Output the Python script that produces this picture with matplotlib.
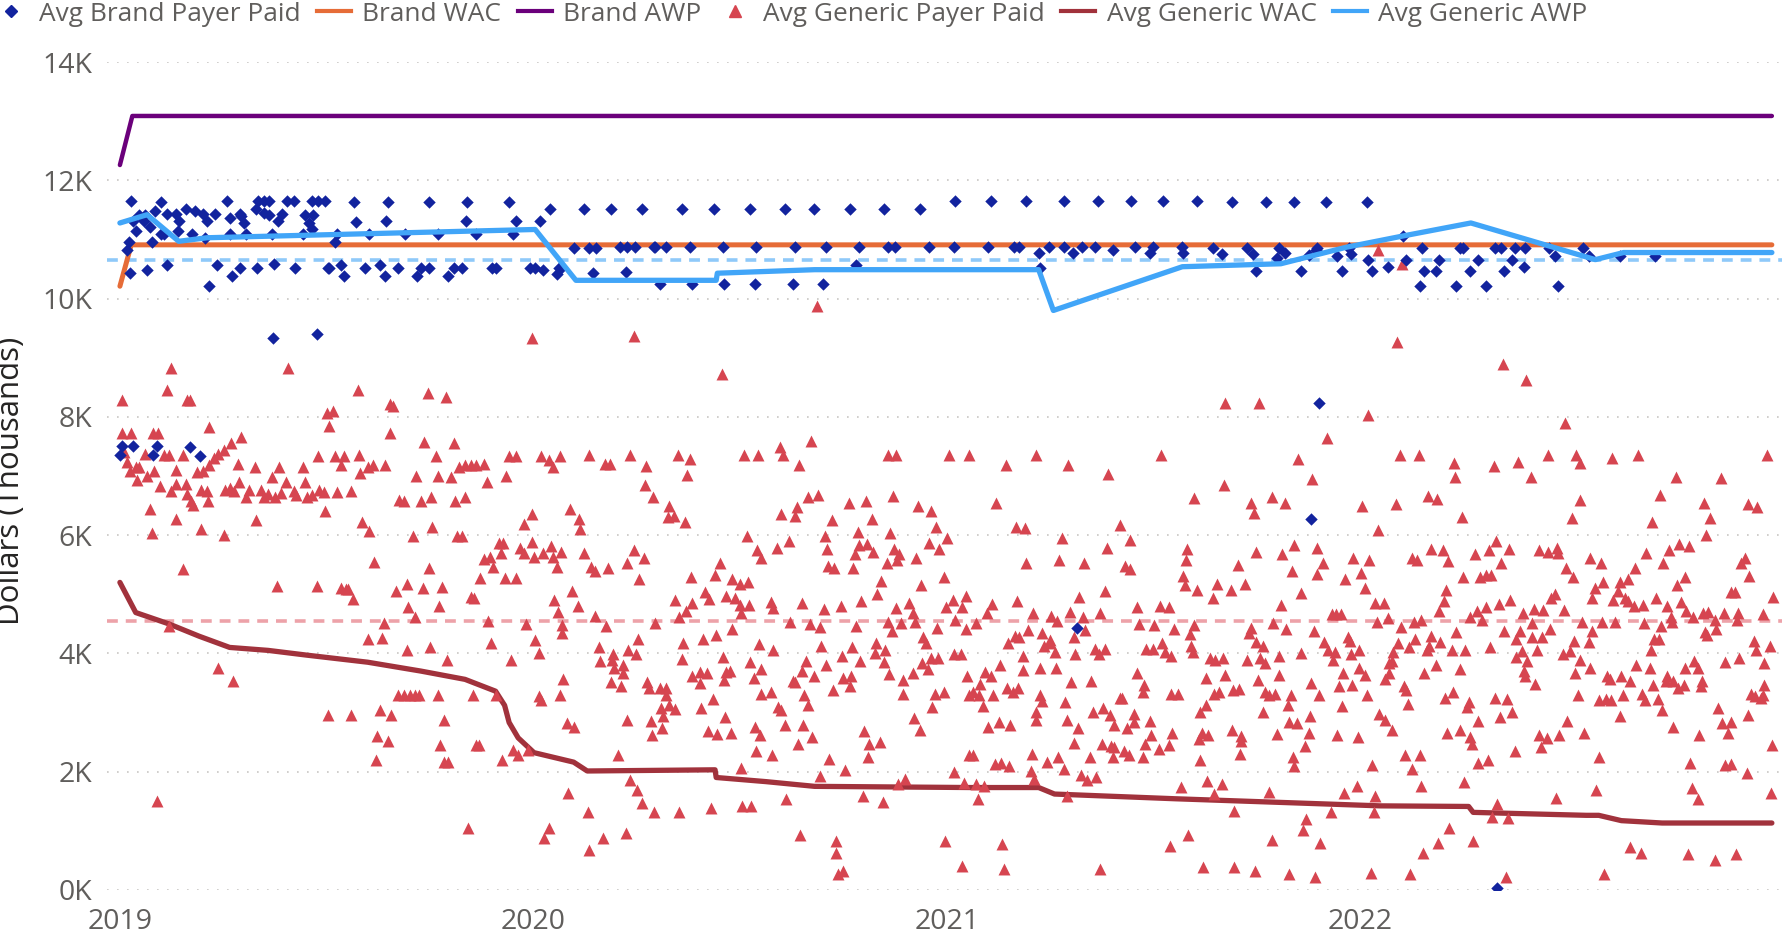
"""
Brand vs generic pricing over time (payer paid, WAC, AWP).
"""
import numpy as np
import matplotlib.pyplot as plt
from matplotlib.lines import Line2D

plt.rcParams["font.family"] = ["Open Sans", "DejaVu Sans"]

START = np.datetime64("2019-01-01")

# (days since 2019-01-01, $K)
brand_awp = [(0, 12.26), (11, 13.09), (1460, 13.09)]
brand_wac = [(0, 10.21), (10, 10.91), (1460, 10.91)]
generic_awp = [(0, 11.28), (24, 11.42), (52, 10.97), (77, 11.03), (367, 11.17), (403, 10.31),
               (527, 10.31), (528, 10.43), (614, 10.49), (812, 10.49), (825, 9.8), (939, 10.54),
               (1026, 10.59), (1084, 10.87), (1134, 11.06), (1194, 11.28), (1304, 10.66),
               (1329, 10.78), (1460, 10.78)]
generic_wac = [(0, 5.2), (14, 4.69), (43, 4.5), (70, 4.29), (97, 4.1), (131, 4.05), (165, 3.97),
               (219, 3.85), (266, 3.7), (305, 3.56), (332, 3.36), (340, 3.12), (344, 2.83),
               (352, 2.57), (366, 2.32), (401, 2.16), (413, 2.01), (526, 2.03), (527, 1.9),
               (571, 1.83), (614, 1.75), (752, 1.73), (812, 1.73), (826, 1.62), (933, 1.54),
               (1114, 1.42), (1192, 1.41), (1196, 1.31), (1296, 1.26), (1307, 1.26), (1327, 1.17),
               (1363, 1.13), (1460, 1.13)]

# average lines (dashed)
generic_awp_avg = 10.66
generic_paid_avg = 4.54

brand_paid = [
    (10, 11.65), (12, 11.31), (14, 11.14), (8, 10.95), (6, 10.82), (9, 10.44), (17, 11.42), (22, 11.42),
    (21, 11.31), (27, 11.21), (28, 10.96), (24, 10.48), (31, 11.48), (36, 11.64), (36, 11.09), (39, 11.1),
    (42, 11.44), (42, 10.57), (50, 11.44), (52, 11.31), (51, 11.14), (58, 11.52), (66, 11.49), (64, 11.09),
    (73, 11.44), (75, 11.03), (77, 11.31), (79, 10.21), (84, 11.44), (86, 10.57), (95, 11.65), (97, 11.37),
    (97, 11.09), (99, 10.38), (106, 11.44), (107, 11.4), (110, 11.28), (111, 11.09), (106, 10.52),
    (121, 10.52), (120, 11.51), (122, 11.65), (127, 11.65), (132, 11.65), (127, 11.45), (132, 11.42),
    (134, 11.09), (136, 10.58), (135, 9.33), (143, 11.44), (140, 11.31), (148, 11.65), (154, 11.65),
    (155, 10.52), (162, 11.09), (164, 11.42), (170, 11.65), (175, 11.65), (181, 11.65), (171, 11.42),
    (167, 11.28), (170, 11.17), (174, 9.41), (184, 10.52), (185, 10.52), (190, 10.95), (192, 11.09),
    (195, 10.57), (198, 10.38), (207, 11.63), (209, 11.3), (217, 10.52), (220, 11.09), (230, 10.57),
    (234, 10.38), (235, 11.31), (237, 11.64), (246, 10.52), (252, 11.09), (263, 10.38), (266, 10.52),
    (273, 10.52), (273, 11.64), (281, 11.09), (290, 10.38), (295, 10.52), (302, 10.52), (306, 11.31),
    (307, 11.64), (315, 11.09), (329, 10.52), (332, 10.52), (344, 11.64), (347, 11.09), (350, 11.31),
    (362, 10.52), (367, 10.52), (374, 10.48), (371, 11.31), (380, 11.51), (388, 10.52), (390, 10.52),
    (386, 10.41), (401, 10.86), (410, 11.51), (415, 10.86), (418, 10.44), (421, 10.86),
    (0, 7.36), (2, 7.51), (12, 7.51), (29, 7.36), (33, 7.51), (62, 7.49), (71, 7.34),
    (434, 11.51), (461, 11.51), (497, 11.51), (525, 11.51), (557, 11.51), (588, 11.51), (613, 11.51),
    (645, 11.51), (675, 11.51), (707, 11.51), (738, 11.65), (770, 11.65), (801, 11.65), (834, 11.65),
    (864, 11.65), (894, 11.65), (922, 11.65), (952, 11.65),
    (442, 10.88), (448, 10.88), (455, 10.88), (472, 10.88), (473, 10.88), (483, 10.88), (504, 10.88),
    (533, 10.88), (562, 10.88), (597, 10.88), (624, 10.88), (653, 10.88), (679, 10.88), (685, 10.88),
    (715, 10.88), (737, 10.88), (767, 10.88), (790, 10.88), (795, 10.88), (821, 10.88), (834, 10.88),
    (850, 10.88), (862, 10.88), (897, 10.88), (913, 10.88), (939, 10.88),
    (447, 10.45), (477, 10.25), (506, 10.25), (534, 10.25), (561, 10.25), (595, 10.25), (621, 10.25),
    (651, 10.57), (812, 10.77), (813, 10.52), (842, 10.78), (878, 10.82), (910, 10.77), (940, 10.77),
    (983, 11.63), (1013, 11.63), (1038, 11.63), (1066, 11.63), (1102, 11.63), (966, 10.86), (974, 10.75),
    (996, 10.86), (1001, 10.75), (1004, 10.47), (1024, 10.86), (1023, 10.69), (1030, 10.78), (1044, 10.47),
    (1051, 10.74), (1057, 10.82), (1058, 10.86), (1076, 10.72), (1080, 10.47), (1086, 10.86), (1088, 10.75),
    (1103, 10.65), (1107, 10.47), (1121, 10.54), (1134, 11.06), (1137, 10.66), (1149, 10.21), (1151, 10.86),
    (1153, 10.47), (1163, 10.47), (1166, 10.65), (1181, 10.21), (1184, 10.86), (1187, 10.86), (1193, 10.47),
    (1200, 10.66), (1207, 10.21), (1215, 10.86), (1221, 10.86), (1223, 10.47), (1230, 10.66), (1233, 10.86),
    (1242, 10.86), (1241, 10.54), (1263, 10.86), (1268, 10.72), (1271, 10.21), (1293, 10.86), (1298, 10.72),
    (1326, 10.72), (1357, 10.72),
    (846, 4.43), (1060, 8.24), (1053, 6.27), (1217, 0.03),
]

generic_paid = [
    # 2019
    (2, 8.29), (2, 7.73), (10, 7.73), (45, 8.83), (42, 8.46), (59, 8.29), (62, 8.29), (29, 7.73), (34, 7.73),
    (79, 7.83), (149, 8.83), (210, 8.46), (183, 8.07), (188, 8.1), (185, 7.84), (239, 8.21), (241, 8.18),
    (239, 7.73), (272, 8.41), (288, 8.33), (364, 9.34), (269, 7.57), (295, 7.55), (98, 7.56), (107, 7.66),
    (4, 7.41), (6, 7.24), (9, 7.09), (14, 7.16), (17, 7.15), (15, 6.93), (22, 7.38), (24, 7.0), (30, 7.09),
    (35, 6.83), (27, 6.45), (28, 6.04), (39, 7.36), (43, 7.36), (45, 6.75), (50, 7.1), (50, 6.86), (56, 7.36),
    (58, 6.86), (59, 6.7), (50, 6.28), (56, 5.42), (63, 6.57), (65, 6.51), (68, 7.06), (72, 6.77), (72, 6.1),
    (73, 7.09), (77, 6.74), (78, 6.57), (79, 7.18), (83, 7.3), (87, 7.38), (92, 7.44), (92, 6.01), (93, 6.77),
    (97, 6.8), (101, 6.75), (104, 7.21), (105, 6.89), (111, 6.65), (114, 6.77), (119, 7.15), (120, 6.25),
    (125, 6.77), (127, 6.65), (131, 6.7), (134, 6.99), (137, 6.65), (141, 7.15), (142, 6.71), (147, 6.89),
    (154, 6.75), (156, 6.68), (162, 7.16), (164, 6.89), (165, 6.65), (170, 6.68), (175, 7.33), (176, 6.77),
    (180, 6.73), (181, 6.4), (190, 7.34), (192, 6.73), (195, 7.18), (198, 7.34), (204, 6.75), (211, 7.36),
    (212, 7.05), (214, 6.22), (220, 6.07), (219, 7.15), (224, 7.18), (225, 5.55), (234, 7.18), (247, 6.6),
    (251, 6.57), (259, 5.98), (262, 7.0), (266, 6.58), (275, 6.65), (276, 6.13), (279, 7.33), (281, 7.0),
    (293, 6.98), (296, 6.57), (298, 5.98), (302, 5.98), (300, 7.16), (305, 7.18), (305, 6.65), (310, 7.18),
    (315, 7.18), (322, 7.21), (324, 6.89), (341, 7.0), (344, 7.34), (350, 7.34), (357, 6.19), (364, 6.36),
    (372, 7.34), (379, 7.27), (383, 7.16), (389, 7.34), (398, 6.45), (406, 6.28), (407, 6.1), (410, 5.69),
    (415, 7.36), (416, 5.46), (420, 5.4),
    (318, 5.28), (327, 5.63), (322, 5.6), (330, 5.46), (335, 5.87), (339, 5.87), (337, 5.69), (340, 5.28),
    (350, 5.28), (354, 5.78), (357, 5.69), (364, 5.88), (366, 5.63), (374, 5.69), (381, 5.81), (383, 5.63),
    (386, 5.46), (390, 5.72), (384, 4.9), (387, 4.7), (400, 5.06), (405, 4.8), (310, 4.96), (313, 4.93),
    (325, 4.55), (254, 5.17), (255, 4.79), (261, 4.61), (268, 5.11), (273, 5.45), (282, 4.8), (285, 5.12),
    (244, 5.05), (233, 4.52), (232, 4.26), (219, 4.24), (254, 4.06), (274, 4.1), (289, 3.88), (328, 4.17),
    (359, 4.5), (367, 4.23), (370, 4.01), (391, 4.48), (391, 4.35), (392, 3.57), (389, 3.3), (346, 3.89),
    (370, 3.27), (372, 3.21), (395, 2.83), (401, 2.76), (338, 2.19), (347, 2.36), (352, 2.28), (361, 2.36),
    (396, 1.63), (375, 0.88), (379, 1.04), (414, 1.31), (415, 0.67), (308, 1.04), (312, 3.3), (332, 3.3),
    (315, 2.45), (317, 2.45), (246, 3.3), (251, 3.3), (256, 3.3), (261, 3.3), (264, 3.3), (281, 3.3),
    (286, 2.88), (283, 2.45), (286, 2.16), (290, 2.16), (230, 3.04), (240, 2.96), (227, 2.6), (237, 2.51),
    (226, 2.2), (184, 2.96), (204, 2.96), (87, 3.75), (100, 3.53), (43, 4.47), (139, 5.14), (174, 5.14),
    (195, 5.11), (200, 5.08), (202, 5.08), (206, 4.92), (33, 1.5),
    # 2020 first half
    (454, 9.36), (532, 8.72), (429, 7.2), (433, 7.2), (451, 7.36), (465, 7.17), (464, 6.85), (471, 6.65),
    (493, 7.36), (504, 7.29), (501, 7.01), (485, 6.5), (484, 6.31), (490, 6.33), (499, 6.22), (552, 7.36),
    (564, 7.36), (554, 5.99), (563, 5.75), (567, 5.61), (431, 5.44), (448, 5.53), (454, 5.75), (463, 5.62),
    (459, 5.25), (420, 4.64), (430, 4.47), (473, 4.51), (423, 4.1), (424, 3.87), (436, 3.99), (437, 3.76),
    (435, 3.89), (445, 3.8), (445, 3.67), (434, 3.51), (443, 3.45), (449, 4.05), (456, 3.99), (458, 4.24),
    (466, 3.51), (468, 3.41), (477, 3.41), (483, 3.41), (483, 3.29), (478, 3.08), (485, 3.13), (491, 3.06),
    (480, 2.94), (448, 2.87), (469, 2.85), (470, 2.62), (479, 2.73), (491, 4.91), (494, 4.62), (500, 4.72),
    (506, 4.85), (498, 4.18), (497, 3.91), (505, 5.29), (517, 5.04), (521, 4.92), (526, 5.32), (530, 5.53),
    (515, 4.24), (527, 4.31), (506, 3.62), (513, 3.68), (519, 3.67), (513, 3.49), (533, 3.94), (536, 3.68),
    (539, 3.7), (534, 3.55), (524, 3.22), (514, 3.08), (535, 2.92), (520, 2.68), (528, 2.64), (540, 2.65),
    (541, 5.25), (548, 5.17), (555, 5.21), (536, 4.97), (544, 4.94), (548, 4.82), (556, 4.82), (549, 4.69),
    (541, 4.42), (565, 4.15), (557, 3.86), (560, 3.59), (567, 3.73), (567, 3.32), (561, 2.76), (566, 2.62),
    (562, 2.34), (549, 2.06), (440, 2.28), (451, 1.85), (457, 1.69), (461, 1.47), (472, 1.31), (494, 1.31),
    (522, 1.38), (550, 1.41), (558, 1.41), (427, 0.88), (447, 0.96),
    # 2020 second half
    (616, 9.88), (583, 7.49), (586, 7.36), (611, 7.59), (600, 7.18), (679, 7.36), (686, 7.36), (733, 7.36),
    (750, 7.36), (584, 6.36), (597, 6.33), (598, 6.47), (608, 6.65), (617, 6.68), (629, 6.25), (644, 6.55),
    (659, 6.57), (665, 6.27), (683, 6.66), (705, 6.5), (717, 6.41), (721, 6.14), (731, 5.95), (715, 5.87),
    (724, 5.76), (623, 5.99), (652, 6.06), (681, 6.03), (581, 5.78), (591, 5.9), (625, 5.76), (650, 5.68),
    (653, 5.83), (660, 5.85), (666, 5.71), (648, 5.44), (626, 5.48), (631, 5.45), (678, 5.52), (684, 5.76),
    (687, 5.58), (689, 5.68), (704, 5.61), (673, 5.23), (669, 5.01), (708, 5.15), (728, 5.29), (575, 4.87),
    (577, 4.76), (603, 4.85), (592, 4.53), (610, 4.5), (619, 4.45), (622, 4.75), (637, 4.8), (655, 4.89),
    (651, 4.46), (686, 4.76), (697, 4.85), (701, 4.69), (703, 4.53), (679, 4.53), (682, 4.37), (690, 4.51),
    (710, 4.28), (712, 4.18), (722, 4.43), (730, 4.78), (736, 4.91), (744, 4.78), (748, 4.97), (738, 4.56),
    (748, 4.42), (577, 4.05), (606, 3.87), (603, 3.7), (595, 3.53), (597, 3.51), (613, 3.62), (620, 4.13),
    (624, 3.8), (638, 3.96), (647, 4.1), (654, 3.87), (639, 3.59), (646, 3.61), (645, 3.45), (630, 3.38),
    (668, 4.17), (667, 4.0), (676, 4.05), (675, 3.85), (680, 3.65), (692, 3.55), (692, 3.32), (701, 3.67),
    (709, 3.83), (714, 3.73), (717, 3.92), (723, 3.92), (737, 3.99), (743, 3.99), (749, 3.61), (720, 3.32),
    (728, 3.35), (718, 3.1), (750, 3.29), (575, 3.35), (582, 3.1), (584, 3.04), (588, 2.79), (604, 2.78),
    (605, 3.29), (608, 3.13), (599, 2.47), (612, 2.59), (576, 2.28), (627, 2.22), (641, 2.03), (619, 1.92),
    (658, 2.68), (662, 2.47), (672, 2.5), (661, 2.24), (702, 2.9), (707, 2.71), (750, 2.28), (737, 2.0),
    (688, 1.79), (694, 1.87), (746, 1.81), (589, 1.54), (657, 1.58), (674, 1.48), (601, 0.93), (633, 0.83),
    (633, 0.62), (635, 0.26), (639, 0.32), (729, 0.83), (744, 0.41),
    # 2021 first half
    (810, 7.36), (783, 7.18), (838, 7.18), (873, 7.03), (920, 7.36), (774, 6.55), (792, 6.14), (800, 6.12),
    (833, 5.95), (884, 6.17), (893, 5.91), (872, 5.78), (801, 5.52), (830, 5.58), (852, 5.52), (888, 5.48),
    (893, 5.42), (871, 5.06), (848, 4.96), (771, 4.83), (766, 4.69), (793, 4.88), (757, 4.51), (807, 4.68),
    (823, 4.64), (828, 4.55), (840, 4.7), (851, 4.61), (866, 4.68), (899, 4.78), (901, 4.5), (914, 4.48),
    (919, 4.8), (927, 4.78), (932, 4.42), (803, 4.39), (795, 4.27), (791, 4.3), (785, 4.18), (815, 4.34),
    (817, 4.13), (822, 4.23), (822, 4.17), (826, 4.02), (843, 4.27), (853, 4.4), (844, 3.99), (862, 4.08),
    (865, 3.99), (871, 4.08), (907, 4.08), (913, 4.08), (921, 4.18), (924, 4.02), (929, 3.96), (798, 3.96),
    (813, 3.76), (827, 3.75), (778, 3.8), (765, 3.68), (770, 3.61), (798, 3.72), (760, 3.48), (754, 3.35),
    (759, 3.3), (772, 3.3), (763, 3.11), (784, 3.41), (789, 3.35), (794, 3.41), (813, 3.3), (815, 3.19),
    (841, 3.51), (858, 3.53), (835, 3.17), (810, 3.0), (810, 2.87), (837, 2.87), (847, 2.73), (777, 2.84),
    (787, 2.79), (767, 2.76), (869, 3.08), (875, 2.96), (860, 3.0), (879, 2.78), (884, 3.24), (886, 3.25),
    (899, 3.66), (904, 3.35), (905, 3.46), (896, 2.98), (896, 2.84), (890, 2.73), (910, 2.85), (911, 2.62),
    (929, 3.32), (930, 2.65), (927, 2.45), (918, 2.38), (906, 2.46), (904, 2.25), (868, 2.46), (876, 2.43),
    (879, 2.41), (878, 2.24), (887, 2.34), (892, 2.28), (843, 2.49), (857, 2.24), (754, 2.28), (773, 2.13),
    (779, 2.14), (786, 2.1), (806, 2.29), (819, 2.17), (829, 2.24), (834, 2.04), (805, 2.01), (808, 1.87),
    (849, 1.94), (855, 1.85), (863, 1.9), (757, 1.79), (764, 1.76), (758, 1.54), (837, 1.58), (780, 0.77),
    (781, 0.36), (866, 0.36), (928, 0.74),
    # 2021 second half
    (977, 8.24), (1007, 8.24), (1103, 8.03), (1067, 7.65), (1041, 7.28), (1054, 6.95), (976, 6.85),
    (949, 6.63), (1000, 6.55), (1002, 6.38), (1018, 6.65), (1030, 6.54), (1098, 6.5), (1112, 6.08),
    (943, 5.77), (942, 5.58), (940, 5.31), (941, 5.15), (952, 5.07), (966, 4.94), (970, 5.18), (982, 5.07),
    (988, 5.5), (994, 5.18), (1004, 5.72), (1027, 5.68), (1038, 5.83), (1036, 5.4), (1058, 5.79),
    (1063, 5.53), (1058, 5.34), (1044, 5.02), (1026, 4.82), (1090, 5.61), (1104, 5.58), (1097, 5.36),
    (1100, 5.1), (1083, 5.25), (1109, 4.85), (1071, 4.66), (1075, 4.66), (1079, 4.66), (1111, 4.53),
    (949, 4.48), (946, 4.32), (947, 4.13), (948, 4.02), (1000, 4.43), (998, 4.34), (1004, 4.19), (1010, 4.13),
    (1019, 4.51), (1031, 4.42), (1055, 4.38), (1064, 4.19), (1068, 4.06), (1074, 4.02), (1085, 4.27),
    (1087, 4.21), (1095, 4.05), (1088, 3.99), (1072, 3.89), (963, 3.92), (968, 3.89), (975, 3.92),
    (996, 3.89), (1008, 3.92), (1012, 3.83), (1024, 3.96), (1044, 4.0), (1081, 3.67), (1095, 3.76),
    (1100, 3.64), (960, 3.59), (977, 3.64), (1006, 3.55), (1024, 3.64), (1053, 3.49), (1077, 3.45),
    (1089, 3.46), (935, 3.32), (967, 3.32), (971, 3.34), (984, 3.38), (989, 3.4), (1012, 3.34), (1016, 3.29),
    (1021, 3.32), (1035, 3.3), (1032, 3.13), (1060, 3.29), (1102, 3.29), (960, 3.13), (955, 3.0),
    (1010, 3.01), (1080, 3.11), (1033, 2.84), (1040, 2.83), (1052, 2.94), (1113, 2.97), (956, 2.65),
    (954, 2.55), (962, 2.62), (983, 2.7), (991, 2.6), (991, 2.51), (990, 2.3), (1023, 2.64), (1051, 2.66),
    (1047, 2.44), (1076, 2.62), (1094, 2.59), (955, 2.19), (1037, 2.25), (1038, 2.09), (1107, 2.11),
    (938, 1.74), (961, 1.84), (974, 1.79), (967, 1.62), (1016, 1.66), (1082, 1.63), (1093, 1.76),
    (1109, 1.58), (985, 1.34), (1048, 1.2), (1046, 1.01), (1070, 1.32), (1108, 1.32), (944, 0.93),
    (1018, 0.85), (1061, 0.8), (957, 0.39), (985, 0.39), (1003, 0.31), (1033, 0.27), (1056, 0.22),
    (1106, 0.28), (1112, 10.82), (1133, 10.58),
    # 2022 first half
    (1129, 9.26), (1222, 8.9), (1243, 8.62), (1277, 7.9), (1131, 7.36), (1148, 7.36), (1179, 7.22),
    (1180, 6.99), (1214, 7.17), (1236, 7.24), (1247, 6.99), (1262, 7.36), (1287, 7.36), (1290, 7.22),
    (1128, 6.52), (1156, 6.66), (1164, 6.61), (1186, 6.31), (1283, 6.29), (1290, 6.6), (1159, 5.77),
    (1169, 5.75), (1142, 5.61), (1146, 5.58), (1174, 5.56), (1198, 5.68), (1210, 5.75), (1216, 5.9),
    (1228, 5.76), (1221, 5.53), (1254, 5.75), (1262, 5.72), (1270, 5.78), (1271, 5.69), (1278, 5.44),
    (1284, 5.29), (1187, 5.29), (1202, 5.29), (1207, 5.32), (1212, 5.32), (1172, 5.07), (1170, 4.88),
    (1166, 4.72), (1265, 4.94), (1268, 5.01), (1229, 4.9), (1219, 4.83), (1207, 4.78), (1199, 4.72),
    (1193, 4.61), (1204, 4.57), (1117, 4.85), (1121, 4.59), (1132, 4.45), (1144, 4.53), (1150, 4.57),
    (1240, 4.68), (1250, 4.75), (1258, 4.73), (1276, 4.74), (1292, 4.53), (1248, 4.51), (1237, 4.37),
    (1234, 4.25), (1223, 4.37), (1181, 4.36), (1159, 4.3), (1167, 4.19), (1145, 4.25), (1139, 4.1),
    (1130, 4.17), (1125, 4.02), (1124, 3.87), (1122, 3.83), (1155, 4.05), (1157, 4.13), (1177, 4.06),
    (1189, 4.05), (1211, 4.1), (1248, 4.27), (1257, 4.27), (1264, 4.42), (1234, 3.94), (1239, 4.04),
    (1244, 3.87), (1252, 4.05), (1275, 3.99), (1282, 4.04), (1285, 4.21), (1290, 3.89), (1118, 3.57),
    (1122, 3.67), (1153, 3.66), (1163, 3.81), (1184, 3.73), (1241, 3.7), (1242, 3.61), (1251, 3.48),
    (1286, 3.66), (1135, 3.45), (1137, 3.38), (1138, 3.15), (1171, 3.24), (1178, 3.35), (1192, 3.17),
    (1191, 3.1), (1215, 3.24), (1226, 3.22), (1230, 3.0), (1220, 2.92), (1200, 2.85), (1289, 3.3),
    (1118, 2.87), (1124, 2.7), (1173, 2.66), (1184, 2.71), (1193, 2.59), (1195, 2.46), (1254, 2.62),
    (1261, 2.57), (1256, 2.41), (1272, 2.62), (1279, 2.85), (1294, 2.65), (1233, 2.34), (1136, 2.28),
    (1149, 2.28), (1142, 2.04), (1200, 2.15), (1209, 2.19), (1150, 1.76), (1188, 1.83), (1269, 1.55),
    (1217, 1.45), (1213, 1.24), (1227, 1.22), (1175, 1.04), (1165, 0.8), (1152, 0.62), (1196, 0.82),
    (1140, 0.26), (1225, 0.22),
    # 2022 second half
    (1319, 7.31), (1342, 7.36), (1456, 7.36), (1375, 6.99), (1415, 6.97), (1361, 6.68), (1400, 6.55),
    (1439, 6.52), (1447, 6.48), (1405, 6.29), (1354, 6.23), (1402, 6.01), (1299, 5.61), (1309, 5.52),
    (1349, 5.69), (1364, 5.52), (1369, 5.74), (1378, 5.85), (1387, 5.82), (1383, 5.29), (1376, 5.15),
    (1339, 5.45), (1333, 5.26), (1326, 5.21), (1324, 5.06), (1311, 5.21), (1304, 5.1), (1301, 4.93),
    (1320, 4.91), (1330, 4.94), (1333, 4.88), (1338, 4.8), (1346, 4.82), (1358, 4.94), (1367, 4.8),
    (1371, 4.62), (1372, 4.53), (1380, 4.87), (1384, 4.71), (1390, 4.61), (1399, 4.69), (1404, 4.7),
    (1410, 4.56), (1411, 4.42), (1418, 4.69), (1424, 5.04), (1427, 5.04), (1430, 4.68), (1429, 4.56),
    (1433, 5.53), (1436, 5.61), (1440, 5.31), (1452, 4.66), (1461, 4.96), (1310, 4.53), (1321, 4.53),
    (1347, 4.51), (1362, 4.46), (1301, 4.37), (1298, 4.2), (1356, 4.25), (1360, 4.24), (1401, 4.36),
    (1403, 4.31), (1353, 4.05), (1444, 4.21), (1446, 4.05), (1458, 4.13), (1299, 3.76), (1340, 3.81),
    (1352, 3.76), (1383, 3.76), (1391, 3.87), (1395, 3.75), (1419, 3.85), (1431, 3.92), (1453, 3.83),
    (1314, 3.61), (1317, 3.57), (1327, 3.62), (1335, 3.53), (1355, 3.46), (1367, 3.62), (1366, 3.54),
    (1373, 3.53), (1377, 3.41), (1382, 3.46), (1398, 3.53), (1397, 3.45), (1453, 3.46), (1452, 3.29),
    (1307, 3.21), (1313, 3.22), (1318, 3.21), (1328, 3.29), (1345, 3.32), (1348, 3.21), (1359, 3.22),
    (1363, 3.04), (1442, 3.32), (1445, 3.27), (1450, 3.24), (1326, 2.94), (1412, 3.08), (1416, 2.83),
    (1424, 2.84), (1421, 2.65), (1439, 2.96), (1373, 2.75), (1396, 2.62), (1460, 2.45), (1307, 2.25),
    (1388, 2.15), (1419, 2.11), (1424, 2.13), (1438, 1.98), (1305, 1.68), (1389, 1.73), (1395, 1.54),
    (1459, 1.64), (1335, 0.73), (1344, 0.62), (1386, 0.61), (1410, 0.5), (1428, 0.61), (1312, 0.26),
]

years = ["2019", "2020", "2021", "2022"]


def to_xy(pairs):
    d = np.array([p[0] for p in pairs])
    v = np.array([p[1] for p in pairs])
    return START + d.astype("timedelta64[D]"), v


fig = plt.figure(figsize=(17.91, 9.42), dpi=100)
ax = fig.add_axes([0.060, 0.0554, 0.935, 0.8786])

x, y = to_xy(brand_awp)
ax.plot(x, y, color="#6B007B", lw=3.2, solid_capstyle="round", zorder=2)
x, y = to_xy(brand_wac)
ax.plot(x, y, color="#E66C37", lw=3.6, solid_capstyle="round", zorder=2)
x, y = to_xy(generic_wac)
ax.plot(x, y, color="#A1323C", lw=3.8, solid_capstyle="round", zorder=2)
x, y = to_xy(generic_awp)
ax.plot(x, y, color="#41A5F8", lw=3.8, solid_capstyle="round", zorder=4)

ax.axhline(generic_awp_avg, color="#8FC9F9", lw=2.6, ls=(0, (3, 2.2)), zorder=1)
ax.axhline(generic_paid_avg, color="#EDA2A9", lw=2.6, ls=(0, (3, 2.2)), zorder=1)

x, y = to_xy(generic_paid)
ax.scatter(x, y, marker="^", s=74, color="#D64550", linewidths=0, zorder=3)
x, y = to_xy(brand_paid)
ax.scatter(x, y, marker="D", s=40, color="#12239E", linewidths=0, zorder=3)

ax.set_ylim(0, 14)
ax.set_xlim(START - np.timedelta64(11, "D"), START + np.timedelta64(1469, "D"))
ax.set_yticks(range(0, 15, 2))
ax.set_yticklabels([f"{v}K" for v in range(0, 15, 2)])
ax.set_xticks([np.datetime64(f"{yr}-01-01") for yr in years])
ax.set_xticklabels(years)
ax.grid(axis="y", color="#C8C6C4", lw=1.2, ls=(0, (1, 5)))
ax.set_axisbelow(True)
for s in ax.spines.values():
    s.set_visible(False)
ax.tick_params(length=0, labelsize=20.5, labelcolor="#605E5C")
ax.tick_params(axis="y", pad=11)
ax.tick_params(axis="x", pad=13)

fig.text(0.006, 0.49, "Dollars (Thousands)", rotation=90, ha="center", va="center",
         fontsize=22.5, color="#252423")

handles = [
    Line2D([], [], marker="D", ls="none", color="#12239E", ms=6.5),
    Line2D([], [], color="#E66C37", lw=3),
    Line2D([], [], color="#6B007B", lw=3),
    Line2D([], [], marker="^", ls="none", color="#D64550", ms=8.5),
    Line2D([], [], color="#A1323C", lw=3),
    Line2D([], [], color="#41A5F8", lw=3),
]
labels = ["Avg Brand Payer Paid", "Brand WAC", "Brand AWP", "Avg Generic Payer Paid",
          "Avg Generic WAC", "Avg Generic AWP"]
fig.legend(handles, labels, loc="center left", bbox_to_anchor=(-0.0035, 0.985), ncol=6,
           frameon=False, fontsize=18.9, labelcolor="#605E5C", handlelength=1.3,
           handletextpad=0.43, columnspacing=0.62, borderaxespad=0, borderpad=0)

fig.savefig("out.png", dpi=100)
